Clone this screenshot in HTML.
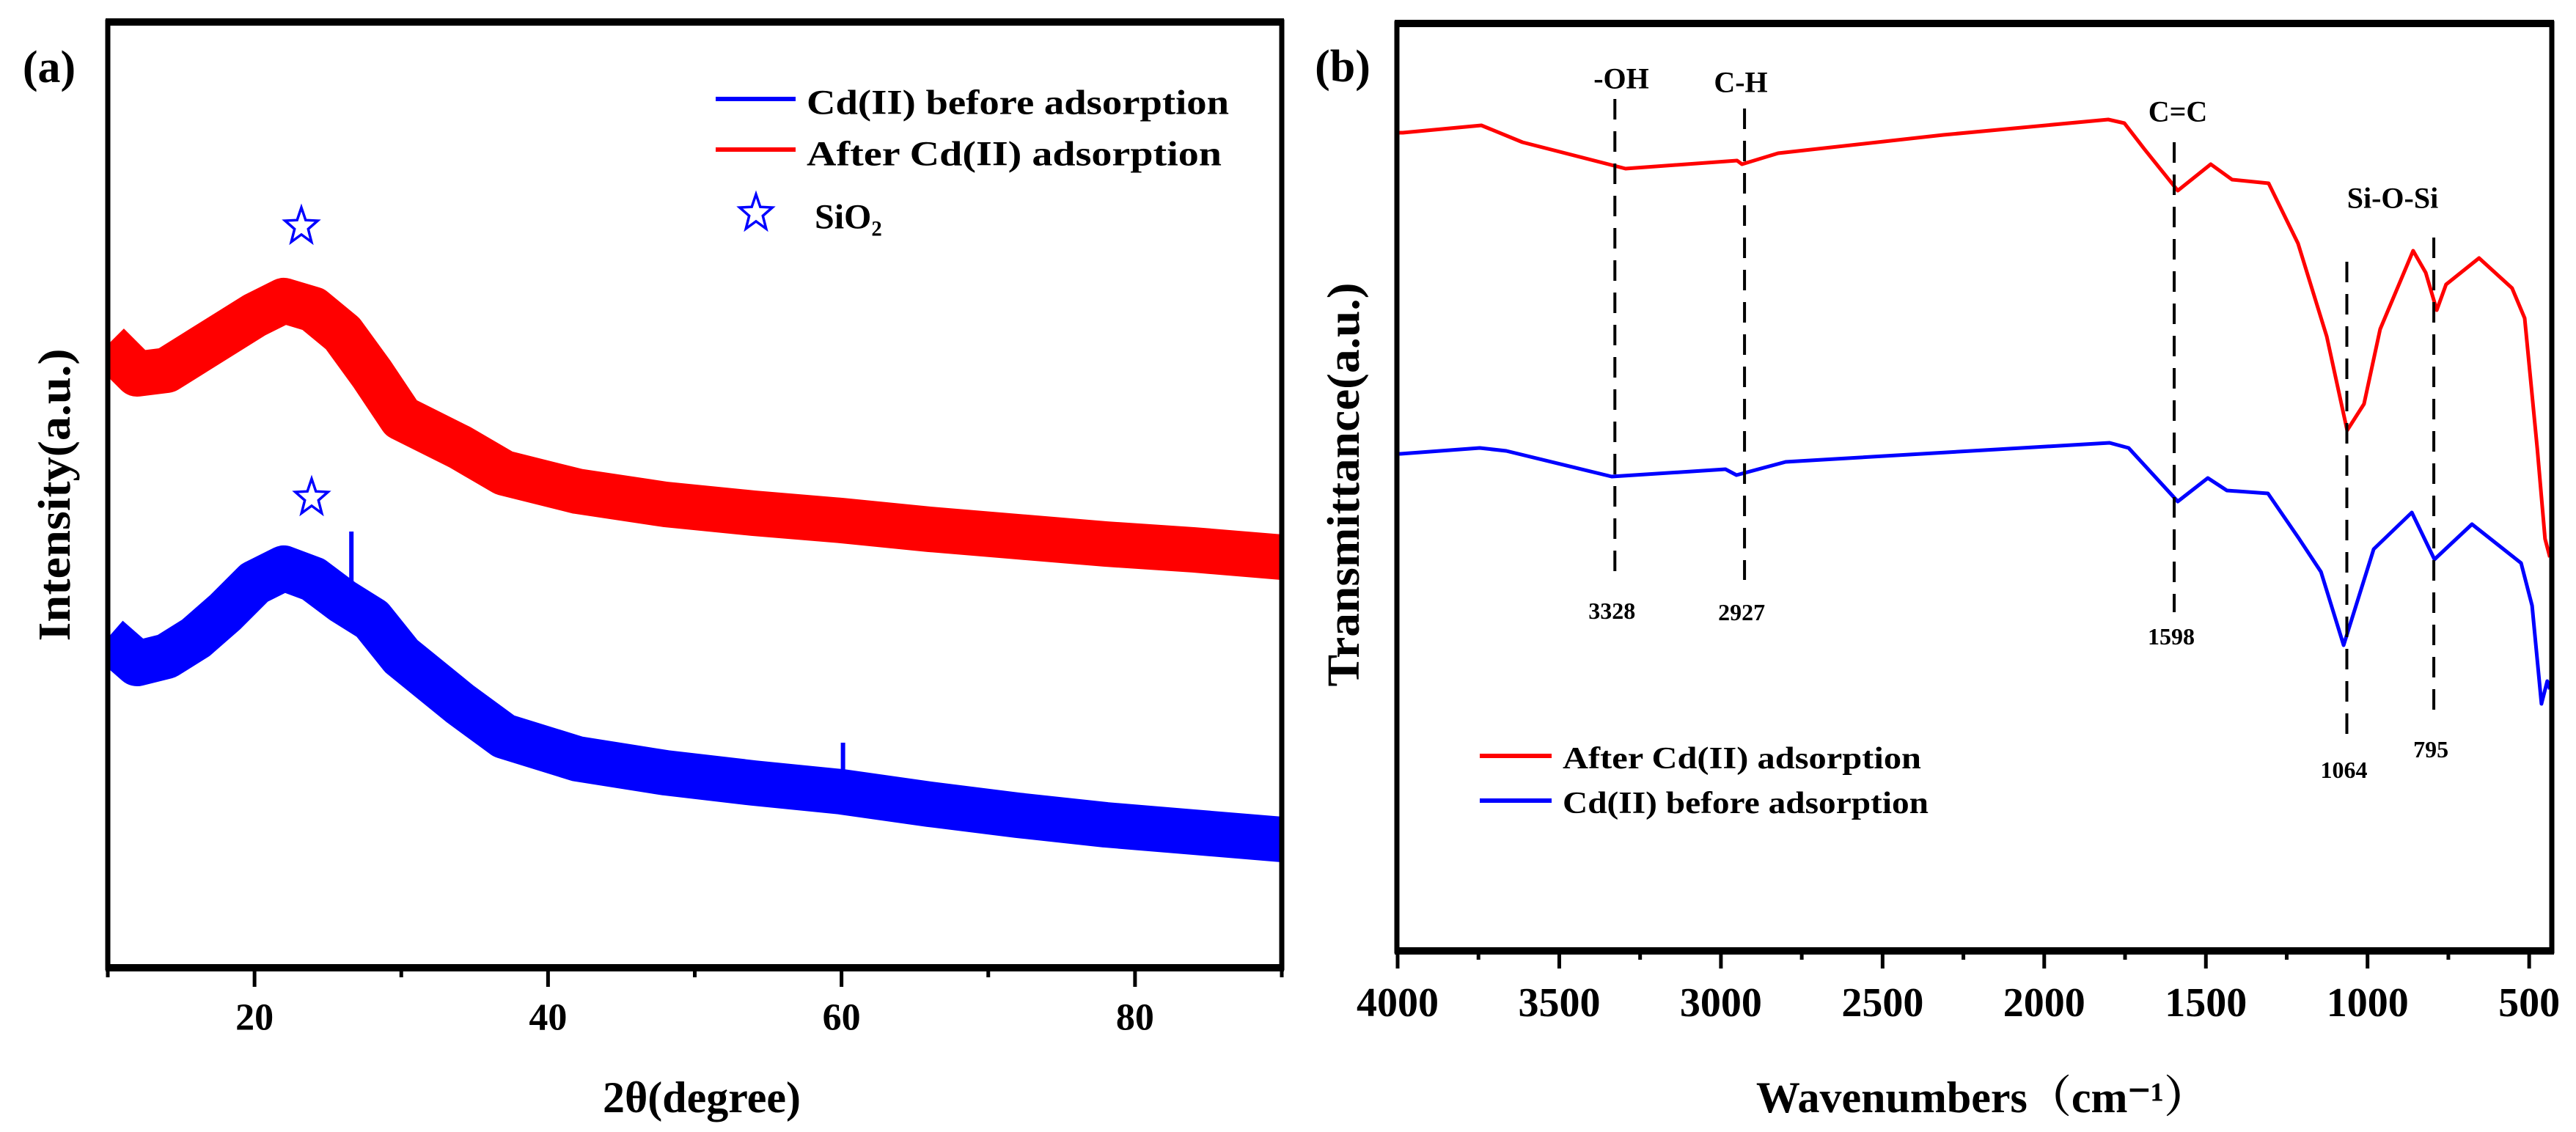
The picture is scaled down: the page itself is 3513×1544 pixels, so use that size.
<!DOCTYPE html>
<html><head><meta charset="utf-8"><style>
html,body{margin:0;padding:0;background:#fff;}
svg{display:block;font-family:"Liberation Serif",serif;font-weight:bold;}
</style></head><body>
<svg id="fig" xmlns="http://www.w3.org/2000/svg" width="3513" height="1544" viewBox="0 0 3513 1544">
<rect width="3513" height="1544" fill="#fff"/>
<g id="pa"></g>
<g id="pb"></g>
</svg>
<script>
// ---- Panel (a) XRD data ----
const xrdTheta = [10,12,14,16,18,20,22,24,26,28,30,34,37,42,48,54,60,66,72,78,84,90];
const xrdAfter = [0.83,0.79,0.795,0.82,0.845,0.87,0.89,0.878,0.845,0.79,0.73,0.69,0.655,0.63,0.612,0.60,0.59,0.578,0.568,0.558,0.55,0.54];
const xrdBefore = [0.43,0.395,0.405,0.43,0.465,0.505,0.525,0.51,0.48,0.455,0.405,0.34,0.296,0.265,0.246,0.232,0.22,0.203,0.188,0.175,0.165,0.155];
const xrdSpikeTheta = [26.6,60.1];
const xrdSpikeVal = [0.575,0.287];
const xrdTicks = [20,40,60,80];
// ---- Panel (b) FTIR data ----
const irWaveAfter = [4010,3984,3741,3614,3295,2950,2935,2823,2312,1802,1752,1689,1587,1485,1419,1306,1215,1126,1063,1011,961,859,820,786,757,655,553,514,475,451,436];
const irAfter = [181,181,171,194,230,219,224,209,184,163,168,204,260,224,245,250,332,459,587,551,449,342,372,423,388,352,393,434,612,735,760];
const irWaveBefore = [4010,3991,3746,3664,3338,2986,2952,2800,2147,1798,1739,1587,1494,1435,1308,1213,1144,1074,981,863,793,677,525,491,462,444,436];
const irBefore = [619,619,611,615,650,640,648,630,613,604,611,684,652,669,673,734,780,880,749,699,763,715,768,826,960,929,940];
const irTicks = [4000,3500,3000,2500,2000,1500,1000,500];
const irMarks = [3328,2927,1598,1064,795];
const irMarkLabels = ["3328","2927","1598","1064","795"];

const NS="http://www.w3.org/2000/svg";
function mk(parent,tag,attrs){const e=document.createElementNS(NS,tag);for(const k in attrs)e.setAttribute(k,attrs[k]);parent.appendChild(e);return e;}
function txt(parent,x,y,s,size,extra){const t=mk(parent,'text',Object.assign({x:x,y:y,'font-size':size,'text-anchor':'middle','dominant-baseline':'central'},extra||{}));t.textContent=s;return t;}
function series(xs,ys,fx,fy){return xs.map((x,i)=>(i?'L':'M')+fx(x).toFixed(1)+','+fy(ys[i]).toFixed(1)).join(' ');}

// ===== Panel a =====
const pa=document.getElementById('pa');
const A={l:147,r:1748,t:30,b:1320};
const ax=v=>A.l+(v-10)/(90-10)*(A.r-A.l);
const ayv=v=>1300-v*1000;
const clipA=mk(pa,'clipPath',{id:'clipA'});
mk(clipA,'rect',{x:A.l,y:A.t,width:A.r-A.l,height:A.b-A.t});
const ga=mk(pa,'g',{'clip-path':'url(#clipA)'});
let p=mk(ga,'path',{d:series(xrdTheta,xrdAfter,ax,ayv),fill:'none',stroke:'#ff0000','stroke-width':62,'stroke-linejoin':'round'});


p=mk(ga,'path',{d:series(xrdTheta,xrdBefore,ax,ayv),fill:'none',stroke:'#0000ff','stroke-width':62,'stroke-linejoin':'round'});


xrdSpikeTheta.forEach((t,i)=>{
  const s=mk(ga,'line',{x1:ax(t),x2:ax(t),y1:ayv(xrdSpikeVal[i]),y2:ayv(xrdSpikeVal[i])+80,stroke:'#0000ff','stroke-width':6});
  
  
});
let f=mk(pa,'rect',{x:A.l,y:A.t,width:A.r-A.l,height:A.b-A.t,fill:'none',stroke:'#000','stroke-width':7});


mk(pa,'line',{x1:A.l-3,x2:A.r+3,y1:A.t,y2:A.t,stroke:'#000','stroke-width':10});
mk(pa,'line',{x1:A.l-3,x2:A.r+3,y1:A.b,y2:A.b,stroke:'#000','stroke-width':10});
for(let v=10;v<=90;v+=10){
  const major=xrdTicks.includes(v);
  const tk=mk(pa,'line',{x1:ax(v),x2:ax(v),y1:A.b,y2:A.b+(major?26:13),stroke:'#000','stroke-width':5});
  
  
}
xrdTicks.forEach(v=>{const t=txt(pa,ax(v),1388,String(v),52);
  
  });
let t=txt(pa,957,1497,'2θ(degree)',60);


t=txt(pa,0,0,'Intensity(a.u.)',62,{transform:'translate(75,675) rotate(-90)',textLength:399,lengthAdjust:'spacingAndGlyphs'});


t=txt(pa,67,92,'(a)',62);


let sw=mk(pa,'line',{x1:976,x2:1085,y1:135,y2:135,stroke:'#0000ff','stroke-width':6});


t=txt(pa,1100,140,'Cd(II) before adsorption',48,{'text-anchor':'start',textLength:576,lengthAdjust:'spacingAndGlyphs'});


sw=mk(pa,'line',{x1:976,x2:1085,y1:204,y2:204,stroke:'#ff0000','stroke-width':6});


t=txt(pa,1100,210,'After Cd(II)  adsorption',48,{'text-anchor':'start',textLength:566,lengthAdjust:'spacingAndGlyphs','xml:space':'preserve'});


function star(parent,cx,cy,r,name){
  let pts=[];for(let i=0;i<10;i++){const a=-Math.PI/2+i*Math.PI/5;const rr=i%2?r*0.42:r;pts.push((cx+rr*Math.cos(a)*0.9).toFixed(1)+','+(cy+rr*Math.sin(a)).toFixed(1));}
  const s=mk(parent,'polygon',{points:pts.join(' '),fill:'none',stroke:'#0000ff','stroke-width':3.5});
  
  
}
star(pa,1031,291,26,'sio2-legend-marker');
t=txt(pa,1111,296,'SiO₂',48,{'text-anchor':'start'});


star(pa,411,309,26,'sio2-peak-marker-after');
star(pa,425,679,26,'sio2-peak-marker-before');

// ===== Panel b =====
const pb=document.getElementById('pb');
const B={l:1905,r:3480,t:32,b:1297};
const bx=w=>1906+(4000-w)*0.4409;
const by=v=>v;
p=mk(pb,'path',{d:series(irWaveAfter,irAfter,bx,by),fill:'none',stroke:'#ff0000','stroke-width':5,'stroke-linejoin':'round'});


p=mk(pb,'path',{d:series(irWaveBefore,irBefore,bx,by),fill:'none',stroke:'#0000ff','stroke-width':5,'stroke-linejoin':'round'});


const dashTop=[135,148,194,357,324];
const dashBot=[780,791,835,1002,970];
const labY=[833,835,868,1050,1022];
irMarks.forEach((w,i)=>{
  const l=mk(pb,'line',{x1:bx(w),x2:bx(w),y1:dashTop[i],y2:dashBot[i],stroke:'#000','stroke-width':4,'stroke-dasharray':'28,16'});
  
  
  const tl=txt(pb,bx(w)-4,labY[i],irMarkLabels[i],32);
  
  
});
[['-OH',2211,107],['C-H',2374,112],['C=C',2970,152],['Si-O-Si',3263,270]].forEach(a=>{
  const g=txt(pb,a[1],a[2],a[0],40);
  
  
});
f=mk(pb,'rect',{x:B.l,y:B.t,width:B.r-B.l,height:B.b-B.t,fill:'none',stroke:'#000','stroke-width':7});


mk(pb,'line',{x1:B.l-3,x2:B.r+3,y1:B.t,y2:B.t,stroke:'#000','stroke-width':10});
mk(pb,'line',{x1:B.l-3,x2:B.r+3,y1:B.b,y2:B.b,stroke:'#000','stroke-width':10});
for(let w=4000;w>=500;w-=250){
  const major=irTicks.includes(w);
  const tk=mk(pb,'line',{x1:bx(w),x2:bx(w),y1:B.b,y2:B.b+(major?24:12),stroke:'#000','stroke-width':5});
  
  
}
irTicks.forEach(w=>{const tl=txt(pb,bx(w),1368,String(w),56);
  
  });
t=txt(pb,2703,1497,'Wavenumbers（cm⁻¹）',60,{'font-family':'"Liberation Serif","Noto Serif CJK SC",serif'});


t=txt(pb,0,0,'Transmittance(a.u.)',62,{transform:'translate(1833,661) rotate(-90)',textLength:551,lengthAdjust:'spacingAndGlyphs'});


t=txt(pb,1831,91,'(b)',62);


sw=mk(pb,'line',{x1:2018,x2:2116,y1:1031,y2:1031,stroke:'#ff0000','stroke-width':6});


t=txt(pb,2131,1035,'After Cd(II)  adsorption',42,{'text-anchor':'start',textLength:489,lengthAdjust:'spacingAndGlyphs','xml:space':'preserve'});


sw=mk(pb,'line',{x1:2018,x2:2116,y1:1092,y2:1092,stroke:'#0000ff','stroke-width':6});


t=txt(pb,2131,1096,'Cd(II) before adsorption',42,{'text-anchor':'start',textLength:499,lengthAdjust:'spacingAndGlyphs'});


</script>
</body></html>
